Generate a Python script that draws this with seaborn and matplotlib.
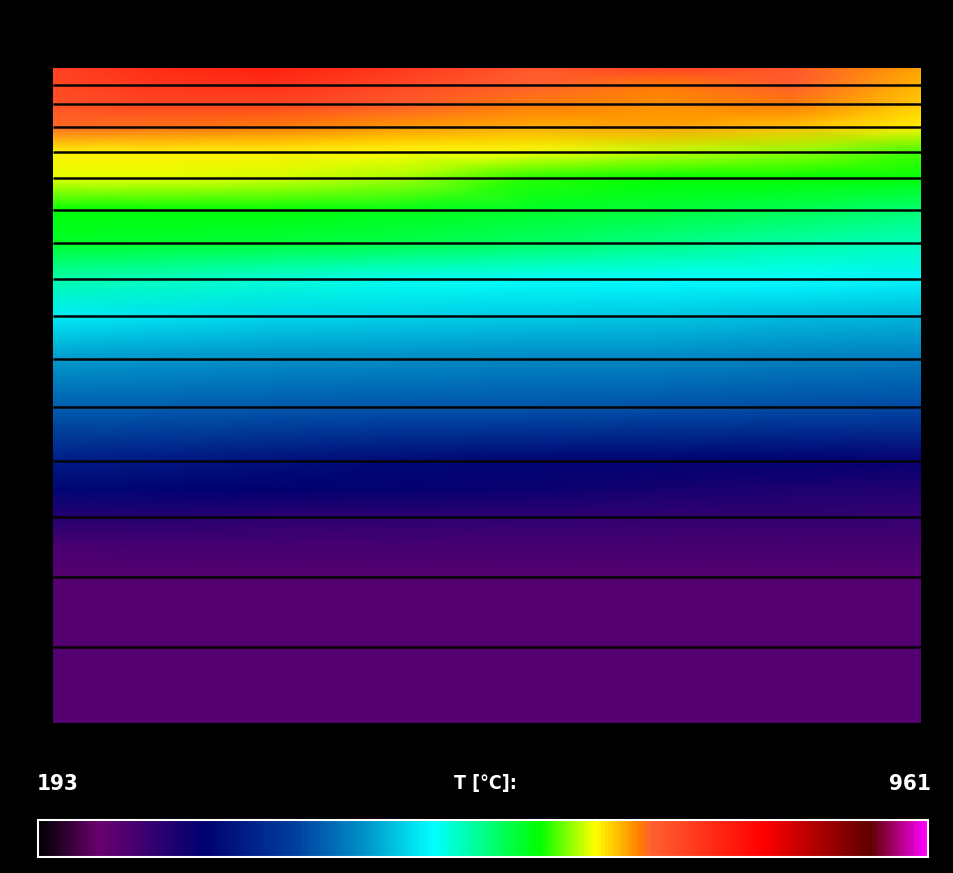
import numpy as np
import matplotlib
matplotlib.use("Agg")
import matplotlib.pyplot as plt
from matplotlib.colors import LinearSegmentedColormap
import seaborn as sns

# Temperature field (°C)
# horizontal stations (fraction of the width)
x_pos = [0.0, 0.12, 0.25, 0.40, 0.55, 0.70, 0.85, 1.0]
# depth of each sample row (mm from the hot face)
depth = [0, 17, 36, 59, 84, 110, 142, 175, 211, 248, 291, 339, 393, 421, 449, 479, 509, 579, 655]
# layer interfaces (black lines)
layer_bounds = [17, 36, 59, 84, 110, 142, 175, 211, 248, 291, 339, 393, 449, 509, 579]

# one column of temperatures per horizontal station, top to bottom
t_x000 = [752, 745, 738, 718, 677, 668, 624, 610, 562, 525, 478, 438, 370, 345, 306, 272, 264, 262, 262]
t_x012 = [772, 765, 748, 716, 677, 667, 624, 608, 556, 518, 475, 436, 364, 340, 304, 274, 264, 262, 262]
t_x025 = [785, 770, 750, 714, 676, 664, 622, 604, 548, 512, 472, 434, 356, 336, 300, 275, 264, 262, 262]
t_x040 = [760, 745, 728, 705, 674, 655, 618, 598, 540, 508, 470, 432, 348, 332, 298, 276, 264, 262, 262]
t_x055 = [730, 722, 712, 698, 672, 633, 612, 590, 536, 505, 468, 430, 342, 326, 296, 276, 264, 262, 262]
t_x070 = [748, 712, 708, 700, 662, 627, 604, 578, 534, 502, 466, 428, 338, 318, 294, 276, 264, 262, 262]
t_x085 = [735, 725, 712, 692, 652, 626, 596, 566, 532, 498, 462, 426, 334, 312, 292, 276, 264, 262, 262]
t_x100 = [700, 695, 688, 676, 638, 624, 585, 556, 528, 494, 458, 422, 330, 308, 290, 276, 264, 262, 262]

t_min, t_max = 193, 961

sns.set_theme(style="dark", rc={"figure.facecolor": "black", "axes.facecolor": "black",
                                "savefig.facecolor": "black"})
plt.rcParams["font.family"] = ["DejaVu Sans"]

# rainbow scale used by the thermal program
cmap = LinearSegmentedColormap.from_list("thermo", [
    (0.0, "#000000"), (0.067, "#6a0070"), (0.185, "#000070"), (0.29, "#0040a0"),
    (0.365, "#0090c8"), (0.444, "#00ffff"), (0.564, "#00ff00"), (0.626, "#ffff00"),
    (0.676, "#ff8000"), (0.69, "#ff6030"), (0.815, "#ff0000"), (0.938, "#600000"),
    (1.0, "#ff00ff")])

temps = np.column_stack([t_x000, t_x012, t_x025, t_x040, t_x055, t_x070, t_x085, t_x100])

fig = plt.figure(figsize=(9.54, 8.73), dpi=100)
ax = fig.add_axes([53 / 954, 1 - 723 / 873, 868 / 954, 655 / 873])
mesh = ax.pcolormesh(x_pos, depth, temps, cmap=cmap, vmin=t_min, vmax=t_max, shading="gouraud")
ax.hlines(layer_bounds, 0, 1, color="#050505", lw=1.8)
ax.set_xlim(0, 1)
ax.set_ylim(depth[-1], 0)
ax.set_axis_off()

# colour bar along the bottom
cax = fig.add_axes([38 / 954, 1 - 857 / 873, 890 / 954, 37 / 873])
cb = fig.colorbar(mesh, cax=cax, orientation="horizontal")
cb.set_ticks([])
cb.outline.set_edgecolor("white")
cb.outline.set_linewidth(1.5)

ty = 1 - 784 / 873
lbl = dict(color="white", fontweight="bold", fontstretch="condensed", va="center")
fig.text(37 / 954, ty, str(t_min), fontsize=16, ha="left", **lbl)
fig.text(931 / 954, ty, str(t_max), fontsize=16, ha="right", **lbl)
fig.text(485 / 954, ty, "T [°C]:", fontsize=14, ha="center", **lbl)

fig.savefig("out.png", dpi=100, facecolor="black")
